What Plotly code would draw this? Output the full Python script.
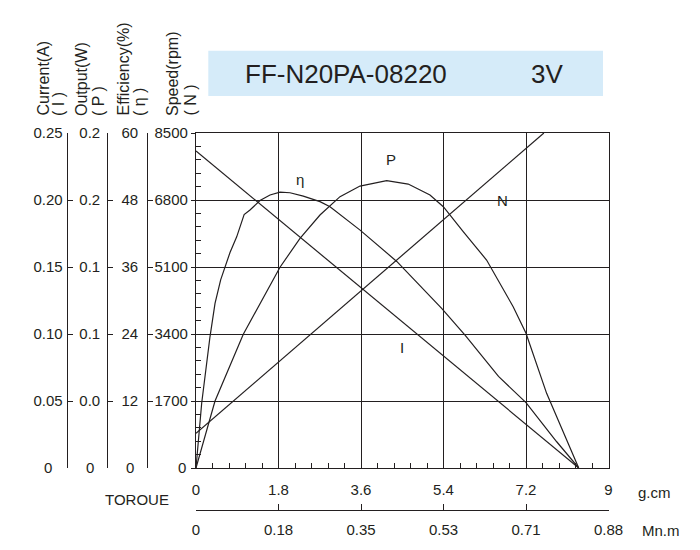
import plotly.graph_objects as go

W, H = 700, 550
# the page body adds an 8px margin; place everything relative to the window
OFF = 8
def px(x): return (x - OFF) / W
def py(y): return 1 - (y - OFF) / H

# ---- data ----
eff_torque = [0, 0.124, 0.305, 0.415, 0.538, 0.742, 0.888, 1.05, 1.178, 1.396, 1.615, 1.833,
              2.051, 2.341, 2.705, 2.924, 3.58, 4.38, 5.36, 5.87, 6.60, 7.2, 7.87, 8.35]
eff_pct = [0, 11.6, 23.5, 29.5, 33.7, 38.6, 41.4, 45.4, 46.2, 47.9, 48.9, 49.4,
           49.3, 48.7, 47.7, 46.8, 42.6, 37.0, 28.6, 23.8, 16.4, 11.7, 4.7, 0]

out_torque = [0, 0.415, 1.032, 1.833, 2.269, 2.705, 3.142, 3.578, 4.16, 4.63, 5.105, 5.396,
              5.83, 6.34, 6.92, 7.2, 7.65, 8.35]
out_w = [0, 0.050, 0.0998, 0.1498, 0.1714, 0.1888, 0.2025, 0.2104, 0.2144, 0.2119, 0.2037, 0.1950,
         0.1764, 0.1552, 0.1204, 0.1005, 0.0557, 0]

speed_torque = [0, 8.35]
speed_rpm = [8043, 0]

current_torque = [0, 7.59]
current_a = [0.0259, 0.25]

x_ticks = [0, 1.8, 3.6, 5.4, 7.2, 9]
x_ticklabels = ["0", "1.8", "3.6", "5.4", "7.2", "9"]
mnm_ticklabels = ["0", "0.18", "0.35", "0.53", "0.71", "0.88"]

speed_ticks = [0, 1700, 3400, 5100, 6800, 8500]
speed_labels = ["", "1700", "3400", "5100", "6800", "8500"]
current_ticks = [0, 0.05, 0.10, 0.15, 0.20, 0.25]
current_labels = ["", "0.05", "0.10", "0.15", "0.20", "0.25"]
output_ticks = [0, 0.05, 0.10, 0.15, 0.20, 0.25]
output_labels = ["", "0.0", "0.1", "0.1", "0.2", "0.2"]
eff_ticks = [0, 12, 24, 36, 48, 60]
eff_labels = ["", "12", "24", "36", "48", "60"]

INK = "#231f20"
FONT = "Liberation Sans, Arial, sans-serif"

fig = go.Figure()
line = dict(color=INK, width=1.2)
fig.add_trace(go.Scatter(x=eff_torque, y=eff_pct, mode="lines", line=line, yaxis="y4", name="η"))
fig.add_trace(go.Scatter(x=out_torque, y=out_w, mode="lines", line=line, yaxis="y3", name="P"))
fig.add_trace(go.Scatter(x=speed_torque, y=speed_rpm, mode="lines", line=line, yaxis="y", name="N"))
fig.add_trace(go.Scatter(x=current_torque, y=current_a, mode="lines", line=line, yaxis="y2", name="I"))

xdom = [px(196), px(608.5)]
ydom = [py(468), py(133)]

minor_x = [round(i * 0.36, 2) for i in range(1, 25) if i % 5 != 0]
minor_y = [i * 340 for i in range(1, 25) if i % 5 != 0]

tickfont = dict(family=FONT, size=15, color=INK)

def free_y(pos, rng, tv, tt, standoff):
    return dict(overlaying="y", anchor="free", position=pos, side="left", range=rng,
                tickmode="array", tickvals=tv, ticktext=tt, ticks="inside", ticklen=5,
                tickwidth=1.2, tickcolor=INK, showline=True, linecolor=INK, linewidth=1.2,
                showgrid=False, zeroline=False, tickfont=tickfont, ticklabelstandoff=standoff,
                automargin=False, autoshift=False, fixedrange=True)

fig.update_layout(
    width=W, height=H, autosize=False,
    margin=dict(l=0, r=0, t=0, b=0, pad=0, autoexpand=False),
    paper_bgcolor="white", plot_bgcolor="white", showlegend=False,
    font=dict(family=FONT, color=INK),
    xaxis=dict(domain=xdom, range=[0, 9], tickmode="array", tickvals=x_ticks, ticktext=x_ticklabels,
               ticks="", showgrid=True, gridcolor=INK, gridwidth=1.3, zeroline=False,
               showline=True, linecolor=INK, linewidth=1.3, mirror=True, tickfont=tickfont,
               ticklabelstandoff=8, automargin=False,
               minor=dict(tickmode="array", tickvals=minor_x, ticks="inside", ticklen=5,
                          tickwidth=1.1, tickcolor=INK, showgrid=False)),
    xaxis2=dict(overlaying="x", anchor="free", position=py(510), side="bottom", range=[0, 9],
                tickmode="array", tickvals=x_ticks, ticktext=mnm_ticklabels, ticks="inside",
                ticklen=6, tickwidth=1.2, tickcolor=INK, showline=True, linecolor=INK,
                linewidth=1.2, showgrid=False, zeroline=False, tickfont=tickfont,
                ticklabelstandoff=6, automargin=False),
    yaxis=dict(domain=ydom, range=[0, 8500], tickmode="array", tickvals=speed_ticks,
               ticktext=speed_labels, ticks="outside", ticklen=4, tickwidth=1.2, tickcolor=INK,
               showgrid=True, gridcolor=INK, gridwidth=1.3, zeroline=False, showline=True,
               linecolor=INK, linewidth=1.3, mirror=True, tickfont=tickfont, automargin=False,
               minor=dict(tickmode="array", tickvals=minor_y, ticks="inside", ticklen=5,
                          tickwidth=1.1, tickcolor=INK, showgrid=False)),
    yaxis2=free_y(px(66.7), [0, 0.25], current_ticks, current_labels, 1),
    yaxis3=free_y(px(107.3), [0, 0.25], output_ticks, output_labels, 4),
    yaxis4=free_y(px(147.3), [0, 60], eff_ticks, eff_labels, 6),
)

# invisible trace to activate xaxis2
fig.add_trace(go.Scatter(x=[0], y=[0], xaxis="x2", yaxis="y", mode="markers",
                         marker=dict(opacity=0), hoverinfo="skip"))

ann = []
def txt(x, y, s, size=15, xa="center", ya="middle", angle=0):
    ann.append(dict(x=px(x), y=py(y), xref="paper", yref="paper", text=s, showarrow=False,
                    xanchor=xa, yanchor=ya, textangle=angle,
                    font=dict(family=FONT, size=size, color=INK)))

# axis titles (rotated)
for xc, s in [(43, "Current(A)"), (59, "( I )"), (82, "Output(W)"), (99, "( P )"),
              (123, "Efficiency(%)"), (140, "( η )"), (173, "Speed(rpm)"), (190, "( N )")]:
    txt(xc, 118, s, size=16, ya="bottom", angle=-90)

# zero labels
for xc in [47.7, 90, 130, 181.7]:
    txt(xc, 468, "0")

# curve labels
txt(300, 179, "η")
txt(391, 159, "P")
txt(502, 200, "N")
txt(402, 347, "I")

# units and torque label
txt(136.7, 499, "TOROUE")
txt(636, 492, "g.cm", xa="left")
txt(640, 530, "Mn.m", xa="left")

# title
txt(345.8, 73.5, "FF-N20PA-08220", size=26)
txt(546.7, 73.5, "3V", size=26)

fig.update_layout(annotations=ann)
fig.add_shape(type="rect", xref="paper", yref="paper", x0=px(208.3), x1=px(603),
              y0=py(96), y1=py(50.7), fillcolor="#d5ebf9", line=dict(width=0), layer="below")

fig.write_html("out.html", config={"displayModeBar": False})
